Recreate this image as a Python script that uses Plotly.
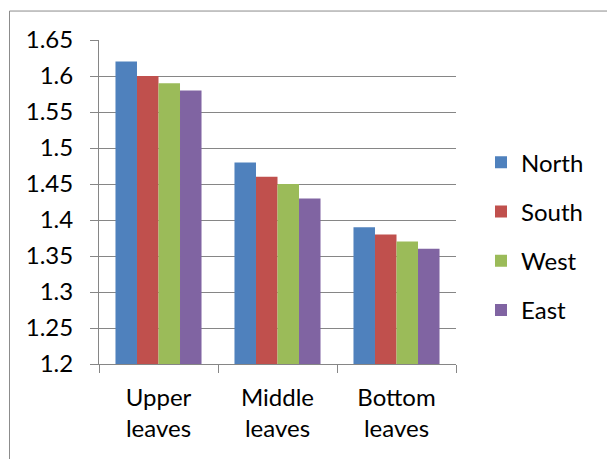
import plotly.graph_objects as go

categories = ["Upper<br>leaves", "Middle<br>leaves", "Bottom<br>leaves"]
series_names = ["North", "South", "West", "East"]
north = [1.62, 1.48, 1.39]
south = [1.60, 1.46, 1.38]
west = [1.59, 1.45, 1.37]
east = [1.58, 1.43, 1.36]
y_ticks = [1.2, 1.25, 1.3, 1.35, 1.4, 1.45, 1.5, 1.55, 1.6, 1.65]
y_tick_labels = ["1.2", "1.25", "1.3", "1.35", "1.4", "1.45", "1.5", "1.55", "1.6", "1.65"]

colors = ["#4F81BD", "#C0504D", "#9BBB59", "#8064A2"]
values = [north, south, west, east]

FONT = "Lato, 'Open Sans', sans-serif"
FS = 24
GRID = "#868686"

fig = go.Figure()
for name, vals, col in zip(series_names, values, colors):
    fig.add_trace(go.Bar(
        x=categories, y=vals, name=name, legendgroup=name,
        marker=dict(color=col, line=dict(width=0)),
    ))

W, H = 607, 459
ml, mr, mt, mb = 99, 151, 39.5, 95
pw, ph = W - ml - mr, H - mt - mb

fig.update_layout(
    width=W, height=H,
    margin=dict(l=ml, r=mr, t=mt, b=mb, pad=0),
    paper_bgcolor="white", plot_bgcolor="white",
    barmode="group", bargap=0.277, bargroupgap=0,
    font=dict(family=FONT, size=FS, color="#000000"),
    legend=dict(
        x=(481 - ml) / pw, xanchor="left",
        y=(H - 236 - mb) / ph, yanchor="middle",
        font=dict(family=FONT, size=FS, color="#000000"),
        tracegroupgap=15, itemwidth=30,
        bgcolor="rgba(0,0,0,0)",
    ),
    xaxis=dict(
        type="category", tickson="boundaries",
        ticks="outside", ticklen=8, tickcolor=GRID, tickwidth=1,
        showline=True, linecolor=GRID, linewidth=1,
        showgrid=False, ticklabelstandoff=12,
        tickfont=dict(family=FONT, size=FS),
    ),
    yaxis=dict(
        range=[1.2, 1.65], tickvals=y_ticks, ticktext=y_tick_labels,
        ticks="outside", ticklen=8, tickcolor=GRID, tickwidth=1,
        showline=True, linecolor=GRID, linewidth=1,
        showgrid=True, gridcolor=GRID, gridwidth=1,
        zeroline=False, ticklabelstandoff=12,
        tickfont=dict(family=FONT, size=FS),
    ),
    shapes=[dict(
        type="rect", xref="paper", yref="paper",
        x0=(9.5 - ml) / pw, x1=1.6,
        y0=-0.6, y1=(H - 10.5 - mb) / ph,
        line=dict(color="#8C8C8C", width=1), fillcolor="rgba(0,0,0,0)",
        layer="below",
    )],
)

fig.write_html("out.html")
